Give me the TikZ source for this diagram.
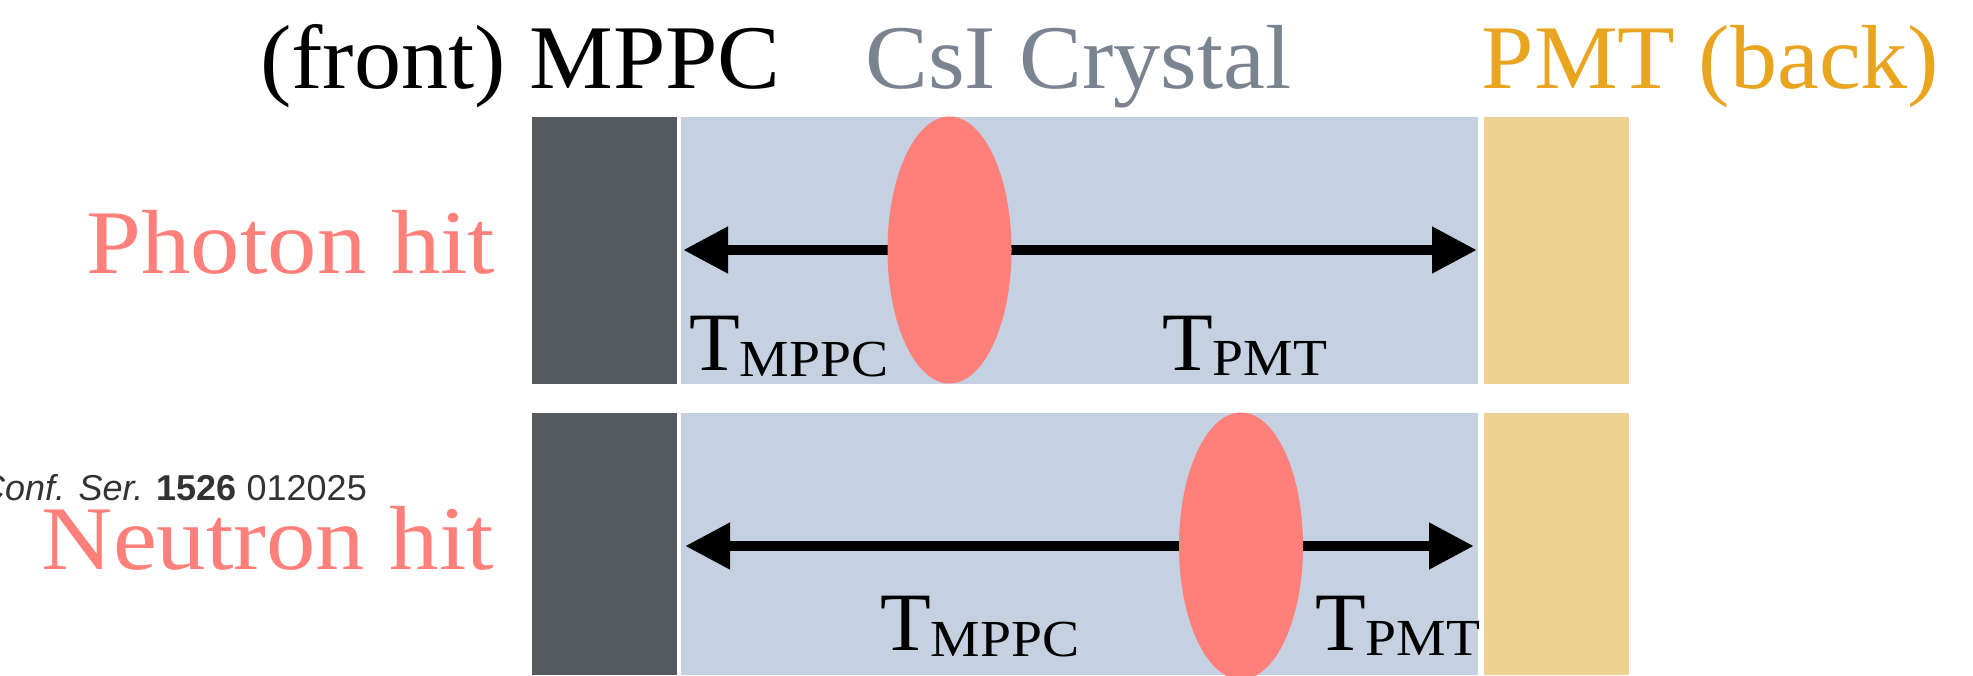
\documentclass[tikz,border=0pt]{standalone}
\usepackage{fontspec}
\setmainfont{Liberation Serif}
\newfontfamily\sansf{Liberation Sans}
\newfontfamily\hitfont{Liberation Serif}[FakeStretch=1.085]
\newfontfamily\titlefont{Liberation Serif}[FakeStretch=1.035]
\newfontfamily\subfont{Liberation Serif}[FakeStretch=1.07]
\usetikzlibrary{arrows.meta,shapes.geometric}
\definecolor{mppcgray}{RGB}{85,89,96}
\definecolor{crystalcol}{RGB}{197,209,225}
\definecolor{pmtcol}{RGB}{239,210,145}
\definecolor{hitred}{RGB}{255,127,122}
\definecolor{csitext}{RGB}{122,132,145}
\definecolor{pmttext}{RGB}{233,165,32}
\definecolor{conftext}{RGB}{51,51,51}
\begin{document}
\begin{tikzpicture}[x=1pt,y=-1pt,
  bigtext/.style={inner sep=0pt, anchor=base, font=\titlefont\fontsize{91}{100}\selectfont},
  hitlabel/.style={inner sep=0pt, anchor=base, font=\hitfont\fontsize{91}{100}\selectfont, text=hitred},
  tlabel/.style={inner sep=0pt, anchor=base west, font=\fontsize{83}{90}\selectfont},
  hit/.style={ellipse, fill=hitred, inner sep=0pt, minimum width=124pt, minimum height=267pt},
  timearrow/.style={line width=10.7pt, -{Triangle[length=45pt,width=44pt]}},
]
\useasboundingbox (0,0) rectangle (1973,675);
% top row
\fill[mppcgray] (532,117) rectangle (677,384);
\fill[crystalcol] (681,117) rectangle (1478,384);
\fill[pmtcol] (1484,117) rectangle (1629,384);
% bottom row
\fill[mppcgray] (532,413) rectangle (677,675);
\fill[crystalcol] (681,413) rectangle (1478,675);
\fill[pmtcol] (1484,413) rectangle (1629,675);
% titles
\node[bigtext] (tfront) at (520.5,88) {(front) MPPC};
\node[bigtext, text=csitext] (tcsi) at (1078.5,88) {CsI Crystal};
\node[bigtext, text=pmttext] (tpmt) at (1710.5,88) {PMT (back)};
% row labels
\node[hitlabel] (photon) at (291,273) {Photon hit};
\node[hitlabel] (neutron) at (268,569) {Neutron hit};
\node[anchor=base east, inner sep=0pt, font=\sansf\fontsize{36}{40}\selectfont, text=conftext] (conf) at (367,500) {{\itshape Conf. Ser.} {\bfseries 1526} 012025};
% photon hit
\coordinate (c1) at (949.5,250);
\coordinate (l1) at (683,250);
\coordinate (r1) at (1477,250);
\draw[timearrow] (c1) -- (l1);
\draw[timearrow] (c1) -- (r1);
\node[hit] (e1) at (c1) {};
\node[tlabel] (tm1) at (689,370) {T\raisebox{-6pt}{\subfont\fontsize{52}{55}\selectfont MPPC}};
\node[tlabel] (tp1) at (1162,370) {T\raisebox{-5pt}{\subfont\fontsize{52}{55}\selectfont PMT}};
% neutron hit
\coordinate (c2) at (1241,546);
\coordinate (l2) at (685,546);
\coordinate (r2) at (1474,546);
\draw[timearrow] (c2) -- (l2);
\draw[timearrow] (c2) -- (r2);
\node[hit] (e2) at (c2) {};
\node[tlabel] (tm2) at (880,650) {T\raisebox{-6pt}{\subfont\fontsize{52}{55}\selectfont MPPC}};
\node[tlabel] (tp2) at (1315,650) {T\raisebox{-5pt}{\subfont\fontsize{52}{55}\selectfont PMT}};
\end{tikzpicture}
\end{document}
